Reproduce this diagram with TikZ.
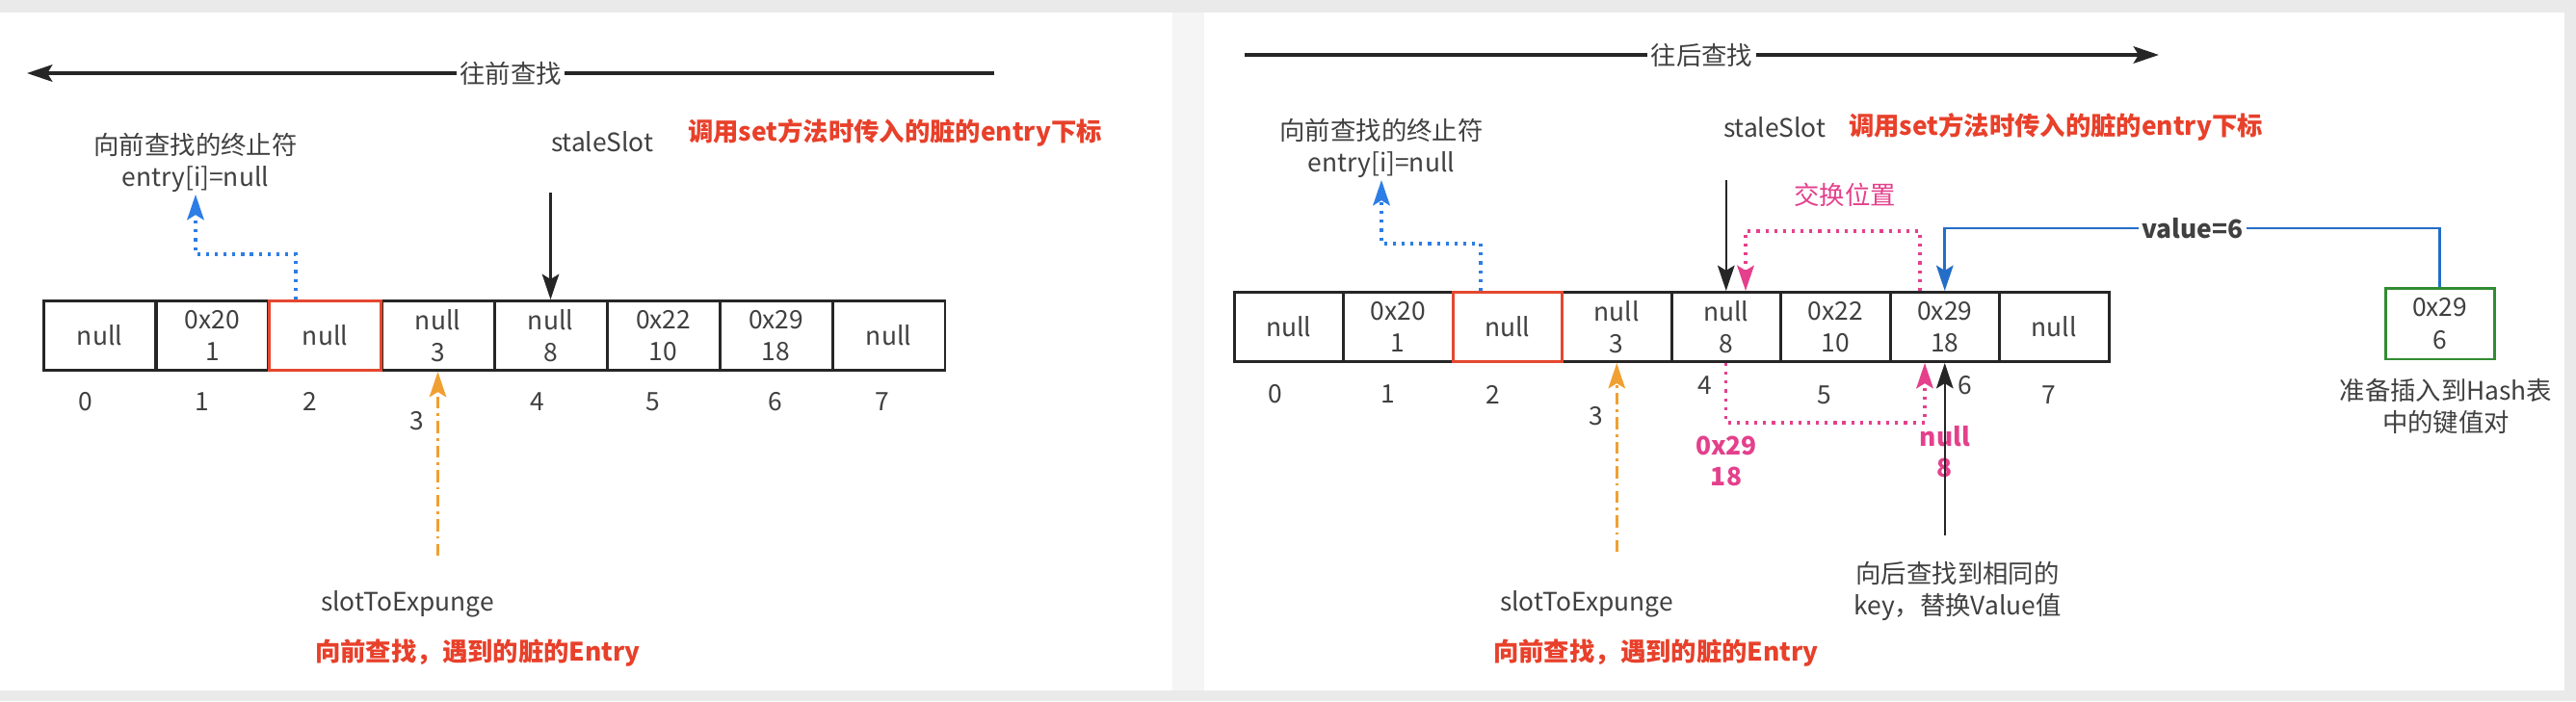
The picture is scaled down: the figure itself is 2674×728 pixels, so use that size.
\documentclass[tikz,border=0pt]{standalone}
\usepackage{fontspec}
\setmainfont{Noto Sans CJK SC}
\usetikzlibrary{arrows.meta}
\definecolor{txt}{RGB}{64,64,64}
\definecolor{redtxt}{RGB}{232,64,42}
\definecolor{redbox}{RGB}{228,72,48}
\definecolor{dotblue}{RGB}{45,125,230}
\definecolor{lineblue}{RGB}{35,110,200}
\definecolor{orng}{RGB}{240,160,50}
\definecolor{pnk}{RGB}{228,64,140}
\definecolor{grn}{RGB}{50,140,50}
\definecolor{bggray}{RGB}{234,234,234}
\definecolor{gapgray}{RGB}{245,245,245}

\begin{document}
\begin{tikzpicture}[x=0.02cm,y=-0.02cm,
        font=\fontsize{15}{19}\selectfont,text=txt,
        >={Stealth[length=15pt,width=10pt,inset=3pt]},
        slot/.style={draw=black!85,line width=1.7pt,minimum width=#1,minimum height=1.44cm,
            inner sep=0pt,align=center},
        idx/.style={inner sep=0pt},
        note/.style={align=center,inner sep=1pt},
        warn/.style={text=redtxt,font=\fontsize{15}{19}\selectfont\bfseries},
        moved/.style={text=pnk,align=center,font=\fontsize{15}{18}\selectfont\bfseries},
        scanline/.style={->,line width=2pt,draw=black!85},
        ptr/.style={->,line width=1.4pt,draw=black!85},
        hint/.style={->,line width=1.8pt,draw=dotblue,dash pattern=on 1.8pt off 3.4pt},
        swapline/.style={->,line width=1.8pt,draw=pnk,dash pattern=on 1.8pt off 3.4pt},
        expline/.style={->,line width=1.5pt,draw=orng,dash pattern=on 7pt off 3pt on 1.5pt off 3pt},
        putline/.style={->,line width=1.6pt,draw=lineblue}]

    \fill[bggray] (0,0) rectangle (2674,728);
    \fill[white] (0,13) rectangle (1217,717);
    \fill[gapgray] (1217,13) rectangle (1250,717);
    \fill[white] (1250,13) rectangle (2662,717);

    \node[slot=2.34cm] (l0) at (103.5,348.5) {null};
    \node[slot=2.34cm] (l1) at (220.5,348.5) {0x20\\1};
    \node[slot=2.34cm] (l3) at (454.5,348.5) {null\\3};
    \node[slot=2.34cm] (l4) at (571.5,348.5) {null\\8};
    \node[slot=2.34cm] (l5) at (688.5,348.5) {0x22\\10};
    \node[slot=2.34cm] (l6) at (805.5,348.5) {0x29\\18};
    \node[slot=2.34cm] (l7) at (922.5,348.5) {null};
    \node[slot=2.34cm,draw=redbox] (l2) at (337.5,348.5) {null};

    \node[idx] (li0) at (89,417) {0};
    \node[idx] (li1) at (210,417) {1};
    \node[idx] (li2) at (322,417) {2};
    \node[idx] (li3) at (433,437) {3};
    \node[idx] (li4) at (558,417) {4};
    \node[idx] (li5) at (678,417) {5};
    \node[idx] (li6) at (805,417) {6};
    \node[idx] (li7) at (916,417) {7};

    \node[note] (lterm) at (203,169) {向前查找的终止符\\entry[i]=null};
    \node (lstale) at (625,147) {staleSlot};
    \node[warn] (lwarn) at (929,138) {调用set方法时传入的脏的entry下标};
    \node (lslot) at (423,627) {slotToExpunge};
    \node[warn] (lfound) at (496,678) {向前查找，遇到的脏的Entry};

    \coordinate (lfrom) at (1032,76);
    \coordinate (lto) at (28,76);
    \coordinate (lstaletop) at (571.5,200);
    \coordinate (lbend) at (307,264);
    \coordinate (lexp) at (454.5,577);

    \draw[scanline] (lfrom) -- node[fill=white,inner sep=2pt] {往前查找} (lto);
    \draw[ptr] (lstaletop) -- (l4.north);
    \draw[hint] (l2.north -| lbend) -- (lbend) -| (lterm.south);
    \draw[expline] (lexp) -- (l3.south);

    \node[slot=2.27cm] (r0) at (1337.75,339.5) {null};
    \node[slot=2.27cm] (r1) at (1451.25,339.5) {0x20\\1};
    \node[slot=2.27cm] (r3) at (1678.25,339.5) {null\\3};
    \node[slot=2.27cm] (r4) at (1791.75,339.5) {null\\8};
    \node[slot=2.27cm] (r5) at (1905.25,339.5) {0x22\\10};
    \node[slot=2.27cm] (r6) at (2018.75,339.5) {0x29\\18};
    \node[slot=2.27cm] (r7) at (2132.25,339.5) {null};
    \node[slot=2.27cm,draw=redbox] (r2) at (1564.75,339.5) {null};

    \node[idx] (ri0) at (1324,409) {0};
    \node[idx] (ri1) at (1441,409) {1};
    \node[idx] (ri2) at (1550,410) {2};
    \node[idx] (ri3) at (1657,432) {3};
    \node[idx] (ri4) at (1770,400) {4};
    \node[idx] (ri5) at (1894,410) {5};
    \node[idx] (ri6) at (2040,400) {6};
    \node[idx] (ri7) at (2127,410) {7};

    \node[note] (rterm) at (1434,154) {向前查找的终止符\\entry[i]=null};
    \node (rstale) at (1842,132) {staleSlot};
    \node[warn] (rwarn) at (2134,132) {调用set方法时传入的脏的entry下标};
    \node[text=pnk] (rswap) at (1915,202) {交换位置};
    \node[slot=2.26cm,draw=grn,minimum height=1.48cm] (gbox) at (2532.5,336) {0x29\\6};
    \node[note] (gnote) at (2539,422) {准备插入到Hash表\\中的键值对};
    \node[moved] (rold) at (1792,479) {0x29\\18};
    \node[moved] (rnew) at (2019,469) {null\\8};
    \node[note] (rsame) at (2032,614) {向后查找到相同的\\key，替换Value值};
    \node (rslot) at (1647,627) {slotToExpunge};
    \node[warn] (rfound) at (1719,678) {向前查找，遇到的脏的Entry};

    \coordinate (rfrom) at (1292,57);
    \coordinate (rto) at (2241,57);
    \coordinate (rstaletop) at (1791.75,187);
    \coordinate (rbend) at (1537,253);
    \coordinate (rexp) at (1678.25,573);
    \coordinate (sw1) at (1993,240);
    \coordinate (sw2) at (1812,240);
    \coordinate (sw3) at (1791.75,439);
    \coordinate (sw4) at (1998,439);
    \coordinate (vtop) at (2532.5,237);
    \coordinate (rhit) at (2018.75,556);

    \draw[scanline] (rfrom) -- node[fill=white,inner sep=2pt] {往后查找} (rto);
    \draw[ptr] (rstaletop) -- (r4.north);
    \draw[hint] (r2.north -| rbend) -- (rbend) -| (rterm.south);
    \draw[expline] (rexp) -- (r3.south);
    \draw[swapline] (r6.north -| sw1) -- (sw1) -- (sw2) -- (r4.north -| sw2);
    \draw[swapline] (r4.south) -- (sw3) -- (sw4) -- (r6.south -| sw4);
    \draw[putline] (gbox.north) -- (vtop) -| node[pos=0.25,fill=white,inner sep=2pt,font=\fontsize{15}{19}\selectfont\bfseries] {value=6} (r6.north);
    \draw[ptr] (rhit) -- (r6.south);
\end{tikzpicture}
\end{document}
